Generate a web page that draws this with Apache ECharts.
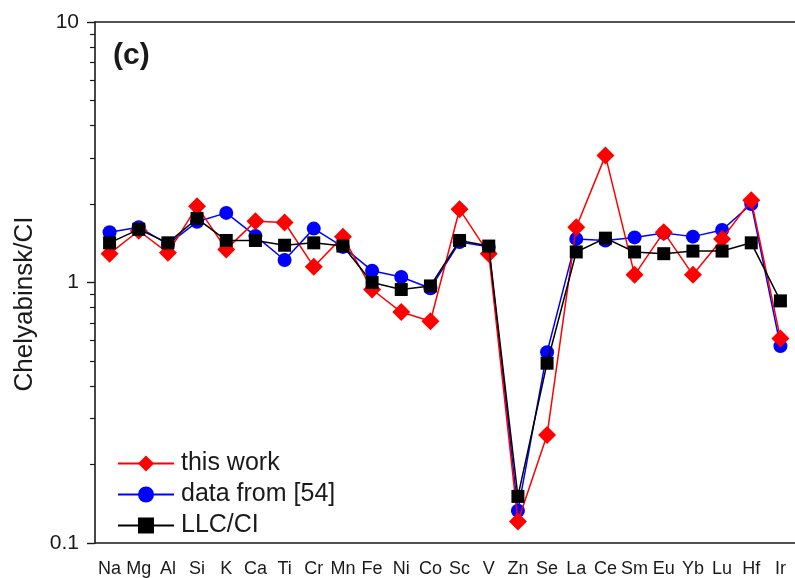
<!DOCTYPE html>
<html>
<head>
<meta charset="utf-8">
<script src="https://cdn.jsdelivr.net/npm/echarts@6/dist/echarts.min.js"></script>
<style>
  html, body { margin: 0; padding: 0; background: #fff; }
  #chart { width: 795px; height: 578px; }
</style>
</head>
<body>
<div id="chart"></div>
<script>
// Element abundances normalised to CI chondrite
const elements = ['Na','Mg','Al','Si','K','Ca','Ti','Cr','Mn','Fe','Ni','Co','Sc','V','Zn','Se','La','Ce','Sm','Eu','Yb','Lu','Hf','Ir'];

const thisWork   = [1.29, 1.58, 1.30, 1.96, 1.34, 1.72, 1.70, 1.15, 1.50, 0.94, 0.77, 0.71, 1.91, 1.29, 0.121, 0.26, 1.63, 3.07, 1.07, 1.56, 1.07, 1.47, 2.07, 0.61];
const dataFrom54 = [1.56, 1.63, 1.40, 1.71, 1.85, 1.51, 1.22, 1.61, 1.37, 1.11, 1.05, 0.95, 1.43, 1.37, 0.133, 0.54, 1.47, 1.45, 1.49, 1.55, 1.50, 1.59, 2.00, 0.57];
const llcCI      = [1.42, 1.60, 1.42, 1.76, 1.45, 1.45, 1.39, 1.42, 1.38, 1.00, 0.94, 0.97, 1.45, 1.38, 0.151, 0.49, 1.31, 1.48, 1.31, 1.29, 1.32, 1.32, 1.42, 0.85];

const yTickLabels = ['0.1', '1', '10'];
// minor ticks of the log axis: 2..9 within each decade
const minorTicks = [0.2,0.3,0.4,0.5,0.6,0.7,0.8,0.9,2,3,4,5,6,7,8,9];

const FONT = "'Liberation Sans', Arial, sans-serif";
const INK = '#1a1a1a';

const chart = echarts.init(document.getElementById('chart'), null, { renderer: 'canvas' });

chart.setOption({
  animation: false,
  backgroundColor: '#fff',
  textStyle: { fontFamily: FONT, color: INK },
  grid: { left: 95, top: 22, bottom: 33, width: 705 },
  title: {
    text: '(c)', left: 108, top: 36,
    textStyle: { fontFamily: FONT, fontSize: 30, fontWeight: 'bold', color: INK }
  },
  legend: {
    orient: 'vertical', left: 117, top: 451, padding: 0,
    itemWidth: 56, itemHeight: 20, itemGap: 6,
    data: ['this work', 'data from [54]', 'LLC/CI'],
    textStyle: { fontFamily: FONT, fontSize: 25, color: INK, lineHeight: 24, padding: [0, 0, 0, 2] }
  },
  graphic: [{
    type: 'text', x: 25, y: 304, rotation: Math.PI / 2,
    style: {
      text: 'Chelyabinsk/CI', fontFamily: FONT, fontSize: 26, fill: INK,
      textAlign: 'center', textVerticalAlign: 'middle'
    }
  }],
  xAxis: [{
    type: 'category', data: elements, position: 'bottom',
    axisLine: { onZero: false, lineStyle: { color: INK, width: 1.6 } },
    axisTick: { alignWithLabel: true, length: 10, lineStyle: { color: INK, width: 1.4 } },
    axisLabel: { interval: 0, margin: 17, fontSize: 18, color: INK, fontFamily: FONT },
    splitLine: { show: false }
  }, {
    type: 'category', data: elements, position: 'top',
    axisLine: { onZero: false, lineStyle: { color: INK, width: 1.6 } },
    axisTick: { show: false }, axisLabel: { show: false }, splitLine: { show: false }
  }],
  yAxis: [{
    type: 'log', logBase: 10, min: 0.1, max: 10,
    axisLine: { show: true, lineStyle: { color: INK, width: 1.6 } },
    axisTick: { show: true, length: 8, lineStyle: { color: INK, width: 1.4 } },
    axisLabel: {
      fontSize: 21, margin: 16, color: INK, fontFamily: FONT,
      formatter: v => yTickLabels.find(t => Math.abs(parseFloat(t) - v) < 1e-9 * Math.max(1, v)) || ''
    },
    splitLine: { show: false }
  }, {
    // second scale in log10 units carrying only the minor ticks
    type: 'value', min: -1, max: 1, position: 'left',
    axisLine: { show: false, onZero: false },
    axisTick: { show: true, length: 5, customValues: minorTicks.map(v => Math.log10(v)), lineStyle: { color: INK, width: 1.2 } },
    axisLabel: { show: false },
    splitLine: { show: false }
  }],
  series: [{
    name: 'this work', type: 'line', data: thisWork, z: 3,
    symbol: 'diamond', symbolSize: 18,
    lineStyle: { color: '#ff0000', width: 1.5 },
    itemStyle: { color: '#ff0000' }
  }, {
    name: 'data from [54]', type: 'line', data: dataFrom54, z: 2,
    symbol: 'circle', symbolSize: 14,
    lineStyle: { color: '#0000ff', width: 1.5 },
    itemStyle: { color: '#0000ff' }
  }, {
    name: 'LLC/CI', type: 'line', data: llcCI, z: 4,
    symbol: 'rect', symbolSize: 13,
    lineStyle: { color: '#000000', width: 1.5 },
    itemStyle: { color: '#000000' }
  }]
});
</script>
</body>
</html>
